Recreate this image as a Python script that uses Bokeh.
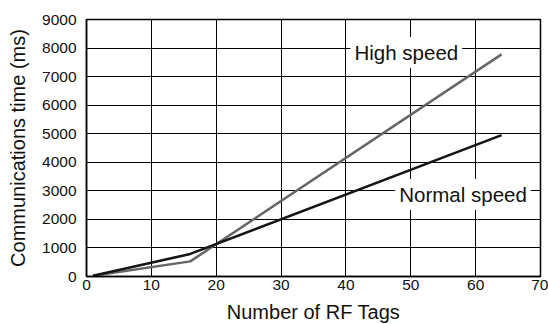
from bokeh.plotting import figure
from bokeh.models import Range1d, FixedTicker, Label
from bokeh.embed import file_html
from bokeh.resources import INLINE

# Data
tags = [1, 16, 64]
high_speed = [25, 530, 7780]
normal_speed = [25, 790, 4950]
x_ticks = [0, 10, 20, 30, 40, 50, 60, 70]
y_ticks = [0, 1000, 2000, 3000, 4000, 5000, 6000, 7000, 8000, 9000]

FONT = "Liberation Sans"

p = figure(
    frame_width=454, frame_height=257,
    min_border_left=86, min_border_top=19, min_border_right=8, min_border_bottom=46,
    x_range=Range1d(0, 70), y_range=Range1d(0, 9000),
    output_backend="svg", toolbar_location=None,
    x_axis_label="Number of RF Tags", y_axis_label="Communications time (ms)",
)
p.background_fill_color = "white"
p.border_fill_color = "white"
p.outline_line_color = "black"
p.outline_line_width = 1.5

p.xaxis.ticker = FixedTicker(ticks=x_ticks)
p.yaxis.ticker = FixedTicker(ticks=y_ticks)
for ax in (p.xaxis, p.yaxis):
    ax.major_tick_out = 0
    ax.major_tick_in = 0
    ax.minor_tick_out = 0
    ax.minor_tick_in = 0
    ax.axis_line_color = "black"
    ax.axis_line_width = 1.5
    ax.major_label_text_font = FONT
    ax.major_label_text_font_size = "15.5px"
    ax.major_label_text_color = "#111111"
    ax.axis_label_text_font = FONT
    ax.axis_label_text_font_size = "20px"
    ax.axis_label_text_font_style = "normal"
    ax.axis_label_text_color = "#111111"
p.yaxis.major_label_standoff = 10
p.yaxis.axis_label_standoff = 10
p.xaxis.major_label_standoff = 3
p.xaxis.axis_label_standoff = 8

p.grid.grid_line_color = "black"
p.grid.grid_line_width = 1
p.grid.grid_line_alpha = 1

p.line(tags, high_speed, line_color="#666666", line_width=2.5)
p.line(tags, normal_speed, line_color="#151515", line_width=2.5)

p.add_layout(Label(x=40.7, y=7840, text="High speed", text_baseline="middle",
                   text_font=FONT, text_font_size="20.5px", text_color="#111111",
                   background_fill_color="white", padding=4))
p.add_layout(Label(x=47.6, y=2870, text="Normal speed", text_baseline="middle",
                   text_font=FONT, text_font_size="20.5px", text_color="#111111",
                   background_fill_color="white", padding=4))

open("out.html", "w").write(file_html(p, INLINE))
